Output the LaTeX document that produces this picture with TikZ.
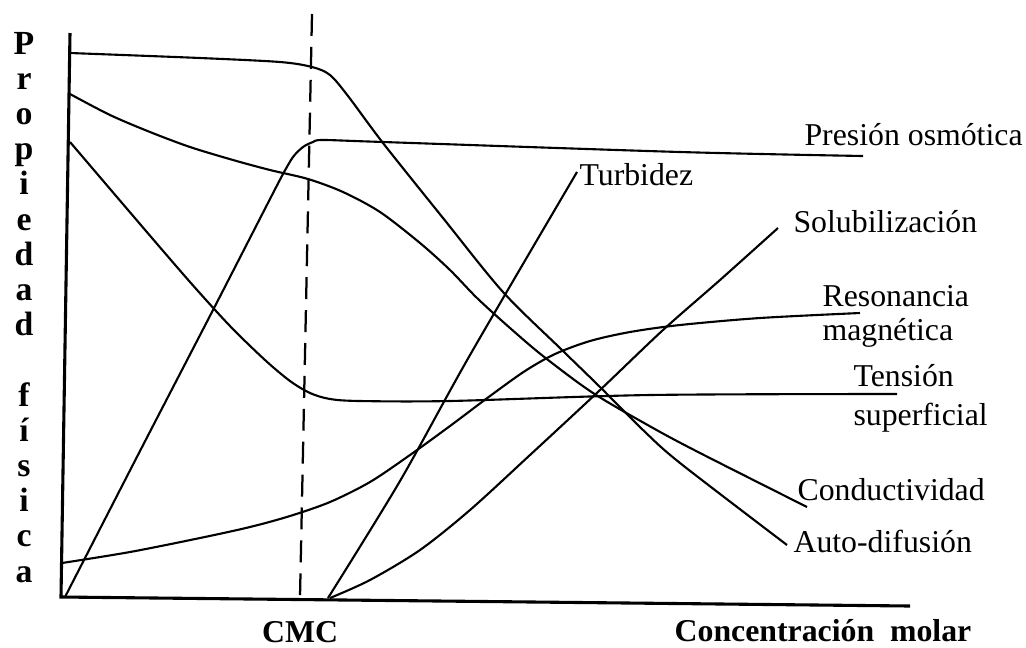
\documentclass[tikz,border=0pt]{standalone}
\usepackage{fontspec}
\newfontfamily\labelfont{Liberation Serif}

\tikzset{
  curve/.style={line width=0.75pt, line join=round},
  axis/.style={line width=1.1pt},
  cmcline/.style={line width=0.8pt, dash pattern=on 7.8pt off 3.9pt},
  curvelabel/.style={font=\labelfont\fontsize{11.3}{11.8}\selectfont,
    inner sep=0pt, anchor=base west, align=left},
  axislabel/.style={font=\labelfont\bfseries\fontsize{11.3}{13}\selectfont,
    inner sep=0pt, anchor=base},
  vletter/.style={font=\labelfont\bfseries\fontsize{12}{14}\selectfont,
    inner sep=0pt, anchor=base}
}

\begin{document}
\begin{tikzpicture}[x=0.0125cm, y=-0.0125cm]
  \useasboundingbox (0,0) rectangle (1026,647);
  % --- axes and CMC line ------------------------------------------------
  \coordinate (O) at (61,597);
  \coordinate (ytop) at (70,33);
  \coordinate (xend) at (910,606);
  \draw[axis] (ytop) -- (O) -- (xend);
  \coordinate (cmctop) at (312,14);
  \coordinate (cmcbot) at (300,597);
  \draw[cmcline] (cmctop) -- (cmcbot);

  % --- curves -----------------------------------------------------------
  % auto-difusion
  \draw[curve] plot[smooth] coordinates {(70,53) (200,58) (280,62) (312,67)
    (330,75) (348,96) (383,143) (443,218) (503,292) (562,350) (600,387)
    (643,430) (680,463) (787,545)};
  % conductividad
  \draw[curve] plot[smooth] coordinates {(70,94) (110,115) (150,132) (190,147)
    (233,160) (270,170) (308,179) (343,192) (380,212) (420,243) (450,270)
    (477,298) (510,328) (543,356) (593,393) (653,428) (700,453) (807,507)};
  % tension superficial
  \draw[curve] plot[smooth] coordinates {(70,142) (140,224) (190,282)
    (230,326) (265,360) (290,381) (310,393) (330,399) (360,401) (450,401)
    (650,395) (897,394)};
  % presion osmotica
  \draw[curve] plot[smooth] coordinates {(65,597) (140,451) (213,310) (270,199)
    (283,174) (293,157) (303,147) (313,142) (323,140) (383,142) (680,152)
    (863,156)};
  % resonancia magnetica
  \draw[curve] plot[smooth] coordinates {(62,563) (130,552) (200,538) (250,527)
    (290,516) (330,502) (370,482) (410,455) (450,426) (490,396) (525,371)
    (555,354) (590,341) (630,332) (680,325) (760,318) (860,313)};
  % turbidez
  \draw[curve] plot[smooth] coordinates {(328,598) (400,481) (470,355)
    (577,172)};
  % solubilizacion
  \draw[curve] plot[smooth] coordinates {(330,598) (370,580) (420,550)
    (470,510) (530,455) (600,390) (663,330) (720,280) (778,228)};

  % --- curve labels -----------------------------------------------------
  \node[curvelabel] (presion) at (804,145) {Presión osmótica};
  \node[curvelabel] (turbidez) at (579,185) {Turbidez};
  \node[curvelabel] (solub) at (793,232) {Solubilización};
  \node[curvelabel] (reson) at (822,340) {Resonancia\\magnética};
  \node[curvelabel] (tension) at (853,425) {Tensión\\[1.8pt]superficial};
  \node[curvelabel] (conduct) at (797,500) {Conductividad};
  \node[curvelabel] (autodif) at (793,552) {Auto-difusión};

  % --- axis labels ------------------------------------------------------
  \node[axislabel] (cmc) at (300,642) {CMC};
  \node[axislabel] (conc) at (823,641) {Concentración\ \ molar};
  \foreach \k/\ch in {0/P,1/r,2/o,3/p,4/i,5/e,6/d,7/a,8/d,
                      10/f,11/í,12/s,13/i,14/c,15/a}
    \node[vletter] (v\k) at (24,{54+35.2*\k}) {\ch};
\end{tikzpicture}
\end{document}
